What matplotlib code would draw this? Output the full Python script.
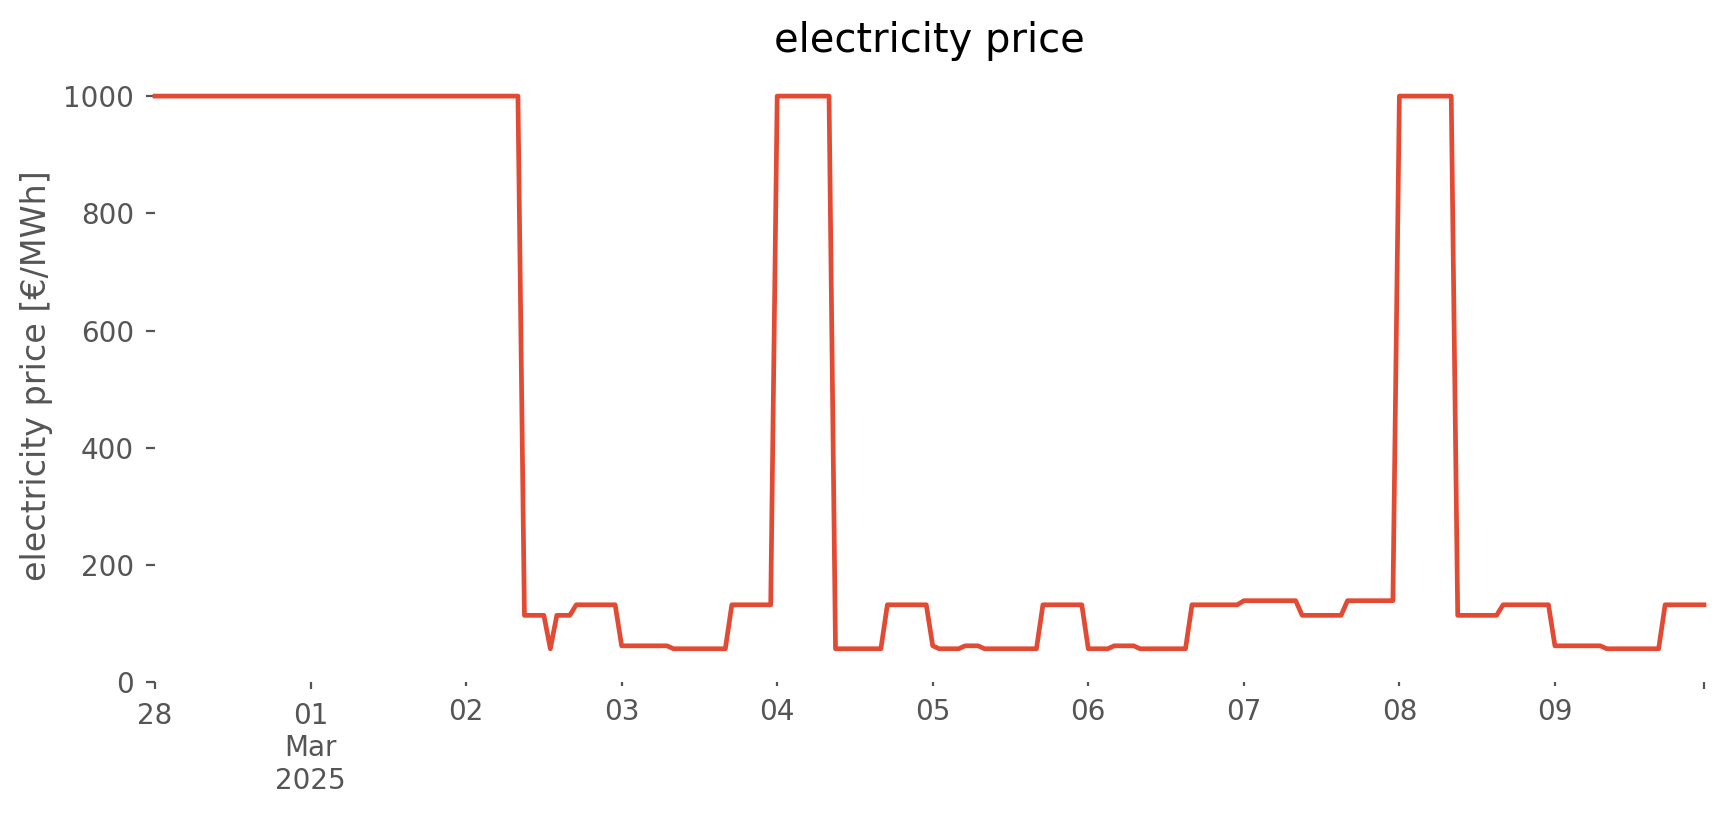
import numpy as np
import pandas as pd
import matplotlib
matplotlib.use("Agg")
import matplotlib.pyplot as plt

# hourly prices, stored as runs (price, number of hours)
run_prices = [1000, 114, 57, 114, 132, 62, 57, 132, 1000, 57, 132, 62, 57, 62, 57,
              132, 57, 62, 57, 132, 139, 114, 139, 1000, 114, 132, 62, 57, 132]
run_hours = [57, 4, 1, 3, 7, 8, 9, 7, 9, 8, 7, 1, 4, 3, 9,
             7, 4, 4, 8, 8, 9, 7, 8, 9, 7, 8, 8, 9, 7]

start = "2025-02-28 00:00"
major_labels = ["28", "01\nMar\n2025", ""]
minor_labels = ["02", "03", "04", "05", "06", "07", "08", "09"]

prices = np.repeat(run_prices, run_hours)
times = pd.date_range(start, periods=len(prices), freq="h")
series = pd.Series(prices, index=times)

grey = "#555555"
fig = plt.figure(figsize=(8.62, 4.075), dpi=200)
ax = fig.add_axes([0.0899, 0.163, 0.8985, 0.753])

ax.plot(series.index.to_pydatetime(), series.values, color="#E24A33", lw=1.7,
        clip_on=False, solid_joinstyle="round")

ax.set_xlim(series.index[0], series.index[-1])
lo = series.min()
ax.set_ylim(0, 1000 + 0.05 * (1000 - lo))
ax.set_yticks(range(0, 1001, 200))

days = pd.date_range(start, periods=10, freq="D")
ax.set_xticks([days[0], days[1], series.index[-1]])
ax.set_xticklabels(major_labels)
ax.set_xticks(days[2:], minor=True)
ax.set_xticklabels(minor_labels, minor=True)

ax.tick_params(axis="x", which="major", length=2.6, width=0.8, pad=4.5,
               colors=grey, labelsize=10)
ax.tick_params(axis="x", which="minor", length=1.3, width=0.8, pad=4.5,
               colors=grey, labelsize=10)
ax.tick_params(axis="y", length=3.2, width=0.8, pad=4.4, colors=grey, labelsize=10)

for s in ax.spines.values():
    s.set_visible(False)

ax.set_title("electricity price", fontsize=14.4, color="black")
ax.set_ylabel("electricity price [€/MWh]", fontsize=12, color=grey, labelpad=3.5)

fig.savefig("out.png", dpi=200)
